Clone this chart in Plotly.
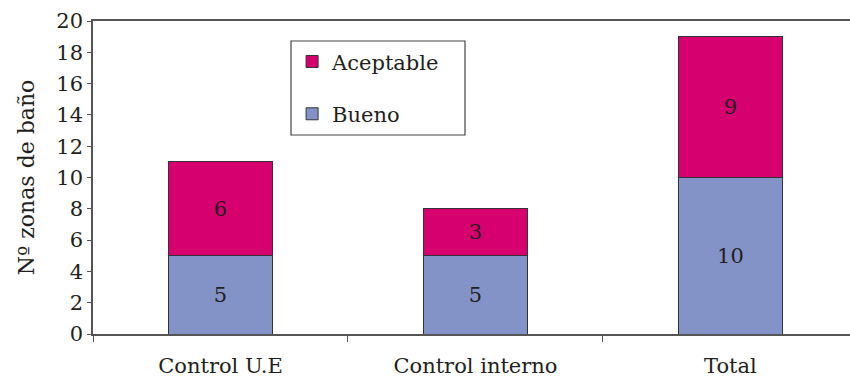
import plotly.graph_objects as go

# Bathing zones by inspection type
categories = ["Control U.E", "Control interno", "Total"]
bueno = [5, 5, 10]
aceptable = [6, 3, 9]

FONT = "DejaVu Serif"
TXT = "#231f20"

fig = go.Figure()
fig.add_trace(go.Bar(
    x=categories, y=bueno, name="Bueno", legendgroup="b", legendrank=2,
    marker=dict(color="#8392c7", line=dict(color="#333333", width=1)),
    text=[str(v) for v in bueno], textposition="inside",
    insidetextanchor="middle", textangle=0,
    textfont=dict(family=FONT, size=21, color=TXT),
    width=0.405,
))
fig.add_trace(go.Bar(
    x=categories, y=aceptable, name="Aceptable", legendgroup="a", legendrank=1,
    marker=dict(color="#d6006f", line=dict(color="#333333", width=1)),
    text=[str(v) for v in aceptable], textposition="inside",
    insidetextanchor="middle", textangle=0,
    textfont=dict(family=FONT, size=21, color=TXT),
    width=0.405,
))

fig.update_layout(
    barmode="stack",
    width=850, height=379,
    margin=dict(l=93, r=0, t=21, b=45),
    paper_bgcolor="white", plot_bgcolor="white",
    font=dict(family=FONT, size=21, color=TXT),
    showlegend=True,
    legend=dict(
        x=0.263, y=0.935, xanchor="left", yanchor="top",
        traceorder="grouped", tracegroupgap=22,
        bgcolor="rgba(0,0,0,0)", borderwidth=0,
        font=dict(family=FONT, size=21, color=TXT),
    ),
    uniformtext=dict(mode=False),
)

# legend frame
fig.add_shape(type="rect", xref="paper", yref="paper",
              x0=(291 - 93) / 757, x1=(465 - 93) / 757,
              y0=(334 - 135) / 313, y1=(334 - 41) / 313,
              line=dict(color="#444444", width=1.2), fillcolor="rgba(0,0,0,0)")

fig.update_xaxes(
    range=[-0.5, 2.469],
    showline=True, linecolor="#555555", linewidth=1.5, mirror=True,
    ticks="outside", tickson="boundaries", ticklen=6, tickcolor="#555555",
    tickfont=dict(family=FONT, size=21, color=TXT),
    ticklabelstandoff=12,
    showgrid=False,
)
fig.update_yaxes(
    range=[0, 20], dtick=2,
    showline=True, linecolor="#555555", linewidth=1.5,
    ticks="outside", ticklen=4, tickcolor="#555555",
    tickfont=dict(family=FONT, size=21, color=TXT),
    showgrid=False, zeroline=False,
    title=dict(text="Nº zonas de baño", font=dict(family=FONT, size=22, color=TXT), standoff=16),
)

fig.write_html("out.html")
